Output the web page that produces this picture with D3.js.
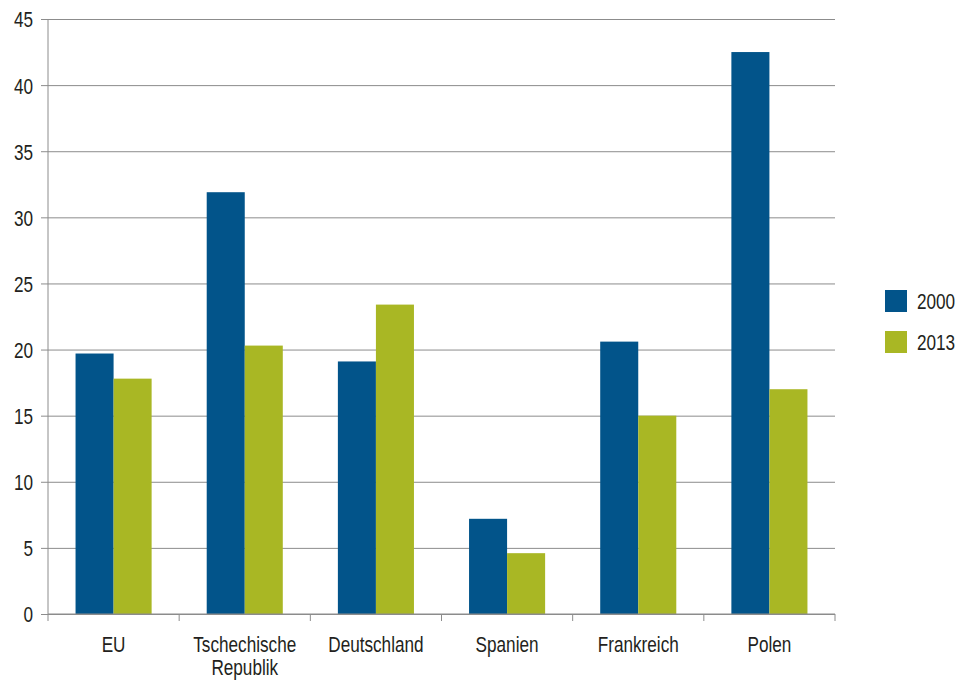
<!doctype html>
<html>
<head>
    <script src="https://d3js.org/d3.v7.min.js"></script>
    <style>
        body { margin: 0; background: #fff; }
        text { font-family: "Liberation Sans", Arial, sans-serif; fill: #231f20; }
    </style>
</head>
<body>
    <svg width="960" height="680"></svg>
    <script>
        var categories = ["EU", "Tschechische Republik", "Deutschland", "Spanien", "Frankreich", "Polen"];
        var series = ["2000", "2013"];
        var values2000 = [19.7, 31.9, 19.1, 7.2, 20.6, 42.5];
        var values2013 = [17.8, 20.3, 23.4, 4.6, 15.0, 17.0];
        var yTicks = [0, 5, 10, 15, 20, 25, 30, 35, 40, 45];
        var colors = ["#02548a", "#a9b724"];

        var svg = d3.select("svg");
        var mLeft = 48, mRight = 835, mTop = 19, mBottom = 614;
        var squeeze = "scale(0.78,1)"; // fake a condensed face

        var x0 = d3.scaleBand().domain(categories).range([mLeft, mRight]).paddingInner(0.42).paddingOuter(0.21);
        var xSec = d3.scaleBand().domain(categories).range([mLeft, mRight]);
        var x1 = d3.scaleBand().domain(series).range([0, x0.bandwidth()]);
        var y = d3.scaleLinear().domain([0, 45]).range([mBottom, mTop]);

        // grid + y labels
        var yAxis = svg.append("g")
            .attr("transform", "translate(" + mLeft + ",0)")
            .call(d3.axisLeft(y).tickValues(yTicks).tickSize(7).tickPadding(8));
        yAxis.select(".domain").remove();
        yAxis.selectAll(".tick line").attr("x2", mRight - mLeft).attr("x1", -7).attr("stroke", "#8c8c8c");
        yAxis.selectAll(".tick text")
            .attr("font-size", "22px").attr("fill", "#231f20").attr("font-family", null)
            .attr("x", 0).attr("dy", "0.36em")
            .attr("transform", "translate(-15,0) " + squeeze);

        // bars
        var rows = categories.map(function(c, i) { return {cat: c, vals: [values2000[i], values2013[i]]}; });
        var groups = svg.selectAll(".grp").data(rows).enter().append("g")
            .attr("transform", function(d) { return "translate(" + x0(d.cat) + ",0)"; });
        groups.selectAll("rect")
            .data(function(d) { return d.vals.map(function(v, j) { return {s: series[j], v: v, j: j}; }); })
            .enter().append("rect")
            .attr("x", function(d) { return x1(d.s); })
            .attr("y", function(d) { return y(d.v); })
            .attr("width", x1.bandwidth())
            .attr("height", function(d) { return y(0) - y(d.v); })
            .attr("fill", function(d) { return colors[d.j]; });

        // axis lines
        svg.append("line").attr("x1", mLeft).attr("x2", mLeft).attr("y1", mTop).attr("y2", mBottom)
            .attr("stroke", "#8c8c8c");
        svg.append("line").attr("x1", mLeft).attr("x2", mRight).attr("y1", mBottom).attr("y2", mBottom)
            .attr("stroke", "#8c8c8c");
        var bounds = categories.map(function(c) { return xSec(c); }).concat([mRight]);
        svg.selectAll(".xtick").data(bounds).enter().append("line")
            .attr("x1", function(d) { return d; }).attr("x2", function(d) { return d; })
            .attr("y1", mBottom).attr("y2", mBottom + 7).attr("stroke", "#8c8c8c");

        // x labels
        svg.selectAll(".xlab").data(categories).enter().append("text")
            .attr("text-anchor", "middle")
            .attr("font-size", "22px")
            .attr("transform", function(d) {
                return "translate(" + (xSec(d) + xSec.bandwidth() / 2) + ",652) " + squeeze;
            })
            .each(function(d) {
                var t = d3.select(this);
                d.split(" ").forEach(function(w, i) {
                    t.append("tspan").attr("x", 0).attr("dy", i ? 23 : 0).text(w);
                });
            });

        // legend
        var leg = svg.selectAll(".leg").data(series).enter().append("g")
            .attr("transform", function(d, i) { return "translate(885," + (290 + i * 41) + ")"; });
        leg.append("rect").attr("width", 22).attr("height", 22)
            .attr("fill", function(d, i) { return colors[i]; });
        leg.append("text").attr("font-size", "22px")
            .attr("transform", "translate(32,19) " + squeeze)
            .text(function(d) { return d; });
    </script>
</body>
</html>
